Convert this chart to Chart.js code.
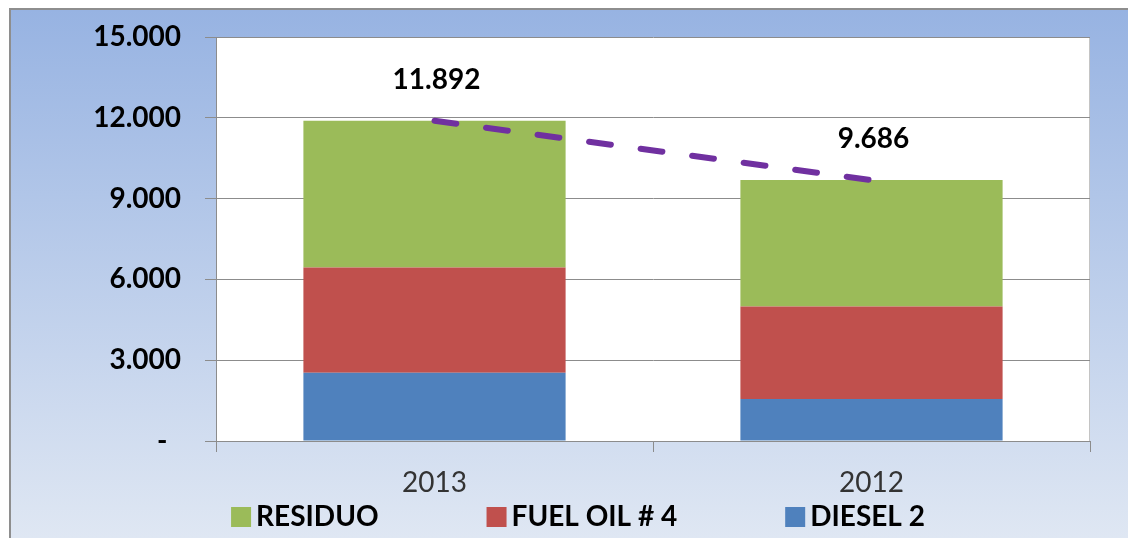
<!DOCTYPE html>
<html>
<head>
<meta charset="utf-8">
<title>Consumo de combustible</title>
<script src="https://cdn.jsdelivr.net/npm/chart.js@4.4.1/dist/chart.umd.min.js"></script>
<style>
	html, body { margin: 0; padding: 0; background: #fff; }
	#wrap { width: 1128px; height: 538px; }
</style>
</head>
<body>
<div id="wrap"><canvas id="fuelChart" width="1128" height="538"></canvas></div>
<script>
const years = ['2013', '2012'];
const diesel = [2530, 1560];
const fuelOil = [3910, 3430];
const residuo = [5452, 4696];
const totals = [11892, 9686];
const yTicks = [0, 3000, 6000, 9000, 12000, 15000];

(() => {
	'use strict'

	const fontFamily = 'Lato, "Open Sans", sans-serif';

	function formatThousands(value) {
		return String(value).replace(/\B(?=(\d{3})+(?!\d))/g, '.');
	}

	// gradient frame behind everything, white plot area
	const backgroundPlugin = {
		id: 'background',
		beforeDraw(chart) {
			const { ctx, width, height, chartArea } = chart;
			ctx.save();
			ctx.fillStyle = '#fff';
			ctx.fillRect(0, 0, width, height);

			const grad = ctx.createLinearGradient(0, 10, 0, height);
			grad.addColorStop(0, '#97b3e2');
			grad.addColorStop(1, '#dfe7f3');
			ctx.fillStyle = grad;
			ctx.fillRect(10, 10, width - 10, height - 10);

			ctx.strokeStyle = '#8e8e8e';
			ctx.lineWidth = 2;
			ctx.beginPath();
			ctx.moveTo(10, height);
			ctx.lineTo(10, 9);
			ctx.lineTo(width, 9);
			ctx.stroke();

			ctx.fillStyle = '#fff';
			ctx.fillRect(chartArea.left, chartArea.top, chartArea.right - chartArea.left, chartArea.bottom - chartArea.top);
			ctx.strokeStyle = '#c4c4c4';
			ctx.lineWidth = 1;
			ctx.beginPath();
			ctx.moveTo(chartArea.right - 0.5, chartArea.top);
			ctx.lineTo(chartArea.right - 0.5, chartArea.bottom);
			ctx.stroke();
			ctx.restore();
		}
	};

	// total labels above the dashed line points
	const totalLabelsPlugin = {
		id: 'totalLabels',
		afterDatasetsDraw(chart) {
			const { ctx } = chart;
			const meta = chart.getDatasetMeta(3);
			ctx.save();
			ctx.font = `bold 28px ${fontFamily}`;
			ctx.fillStyle = '#000';
			ctx.textAlign = 'center';
			ctx.textBaseline = 'middle';
			meta.data.forEach((point, i) => {
				ctx.fillText(formatThousands(totals[i]), point.x + 2, point.y - 41);
			});
			ctx.restore();
		}
	};

	// legend row under the axis, reversed order
	const legendRowPlugin = {
		id: 'legendRow',
		afterDraw(chart) {
			const { ctx } = chart;
			const items = chart.data.datasets.filter((ds) => ds.type !== 'line').reverse();
			const box = 20;
			const textGap = 5;
			const itemGap = 108;
			ctx.save();
			ctx.font = `bold 28px ${fontFamily}`;
			const widths = items.map((ds) => box + textGap + ctx.measureText(ds.label).width);
			const total = widths.reduce((a, b) => a + b, 0) + itemGap * (items.length - 1);
			let x = 578 - total / 2;
			const y = 517;
			items.forEach((ds, i) => {
				ctx.fillStyle = ds.backgroundColor;
				ctx.fillRect(x, y - box / 2, box, box);
				ctx.fillStyle = '#000';
				ctx.textAlign = 'left';
				ctx.textBaseline = 'middle';
				ctx.fillText(ds.label, x + box + textGap, y);
				x += widths[i] + itemGap;
			});
			ctx.restore();
		}
	};

	const fuelCtx = document.getElementById('fuelChart');

	new Chart(fuelCtx, {
		type: 'bar',
		data: {
			labels: years,
			datasets: [
				{
					label: 'DIESEL 2',
					data: diesel,
					backgroundColor: '#4f81bd',
					borderWidth: 0
				},
				{
					label: 'FUEL OIL # 4',
					data: fuelOil,
					backgroundColor: '#c0504d',
					borderWidth: 0
				},
				{
					label: 'RESIDUO',
					data: residuo,
					backgroundColor: '#9bbb59',
					borderWidth: 0
				},
				{
					type: 'line',
					label: 'Total',
					data: totals,
					stack: 'total',
					order: -1,
					borderColor: '#7030a0',
					borderWidth: 6,
					borderDash: [22, 30],
					borderCapStyle: 'round',
					pointRadius: 0,
					fill: false
				}
			]
		},
		options: {
			responsive: false,
			animation: false,
			devicePixelRatio: 1,
			layout: {
				padding: { top: 37, right: 38, left: 0, bottom: 0 }
			},
			datasets: {
				bar: {
					categoryPercentage: 1,
					barPercentage: 0.6
				}
			},
			plugins: {
				legend: { display: false },
				tooltip: { enabled: false }
			},
			scales: {
				x: {
					stacked: true,
					afterFit: function(scale) {
						scale.height = 97;
					},
					grid: {
						offset: true,
						drawOnChartArea: false,
						drawTicks: true,
						tickLength: 11,
						color: '#8c8c8c'
					},
					border: { color: '#8c8c8c' },
					ticks: {
						padding: 14,
						color: '#333',
						font: { family: fontFamily, size: 28 }
					}
				},
				y: {
					stacked: true,
					min: yTicks[0],
					max: yTicks[yTicks.length - 1],
					afterFit: function(scale) {
						scale.width = 216;
						scale.paddingTop = 0;
						scale.paddingBottom = 0;
					},
					afterBuildTicks: function(scale) {
						scale.ticks = yTicks.map((value) => ({ value }));
					},
					grid: {
						tickLength: 11,
						color: '#8c8c8c'
					},
					border: { color: '#8c8c8c' },
					ticks: {
						padding: 24,
						color: '#000',
						font: { family: fontFamily, size: 28, weight: 'bold' },
						callback: function(value) {
							return value === 0 ? '-  ' : formatThousands(value);
						}
					}
				}
			}
		},
		plugins: [backgroundPlugin, totalLabelsPlugin, legendRowPlugin]
	});
})()
</script>
</body>
</html>
